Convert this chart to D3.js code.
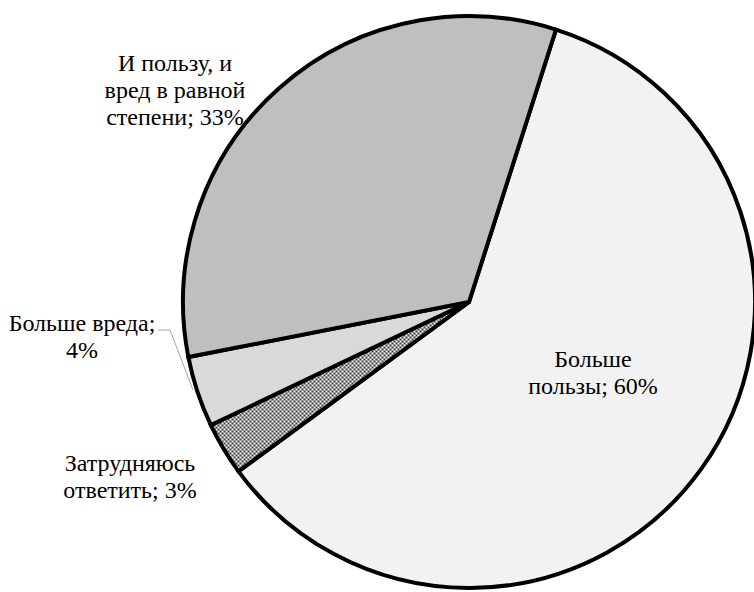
<!DOCTYPE html>
<html><head><meta charset="utf-8">
<script src="https://cdn.jsdelivr.net/npm/d3@7"></script>
<style>body{margin:0;background:#fff}svg{display:block}</style>
</head><body>
<svg id="c" width="754" height="592"></svg>
<script>
const categories = ["Больше пользы", "Затрудняюсь ответить", "Больше вреда", "И пользу, и вред в равной степени"];
const values = [60, 3, 4, 33];
const labelLines = [["Больше", "пользы; 60%"], ["Затрудняюсь", "ответить; 3%"], ["Больше вреда;", "4%"], ["И пользу, и", "вред в равной", "степени; 33%"]];
const fills = ["#f2f2f2", "url(#hatch)", "#d9d9d9", "#bfbfbf"];
const labelPos = [[593, 359], [130, 463], [82, 323], [175, 63]];
const FONT = '"Liberation Serif", "Tinos", "Times New Roman", serif';

const svg = d3.select("#c");
const defs = svg.append("defs");
const pat = defs.append("pattern").attr("id", "hatch").attr("patternUnits", "userSpaceOnUse").attr("width", 4).attr("height", 4);
pat.append("rect").attr("width", 4).attr("height", 4).attr("fill", "#9a9a9a");
[[1,1,"#fff"],[3,3,"#fff"],[3,1,"#3c3c3c"],[1,3,"#3c3c3c"]].forEach(([x,y,c])=>{
  pat.append("rect").attr("x", x).attr("y", y).attr("width", 1).attr("height", 1).attr("fill", c);
});

const cx = 469, cy = 302, r = 286;
const startAngle = 17.7 * Math.PI / 180;
const pie = d3.pie().sort(null).value(d => d).startAngle(startAngle).endAngle(startAngle + 2 * Math.PI);
const arcs = pie(values);
const arc = d3.arc().innerRadius(0).outerRadius(r);
const g = svg.append("g").attr("transform", `translate(${cx},${cy})`);
g.selectAll("path").data(arcs).join("path")
  .attr("d", arc).attr("fill", (d, i) => fills[i])
  .attr("stroke", "#000").attr("stroke-width", 4).attr("stroke-linejoin", "miter");

svg.append("polyline").attr("points", "158,330 170,330 193,390").attr("fill", "none").attr("stroke", "#a6a6a6").attr("stroke-width", 1);

// size the label font so that "вред в равной" spans ~141px as in the reference
const probe = svg.append("text").style("font-family", FONT).style("font-size", "20px").text("вред в равной");
const w = probe.node().getComputedTextLength();
probe.remove();
let fs = w > 0 ? 20 * 141 / w : 21;
fs = Math.max(18, Math.min(25, fs));

const lh = 27;
categories.forEach((c, i) => {
  const t = svg.append("text").attr("text-anchor", "middle").style("font-family", FONT).style("font-size", fs + "px").attr("fill", "#000");
  labelLines[i].forEach((ln, j) => {
    t.append("tspan").attr("x", labelPos[i][0]).attr("y", labelPos[i][1] + j * lh).attr("dy", "0.35em").text(ln);
  });
});
</script>
</body></html>
